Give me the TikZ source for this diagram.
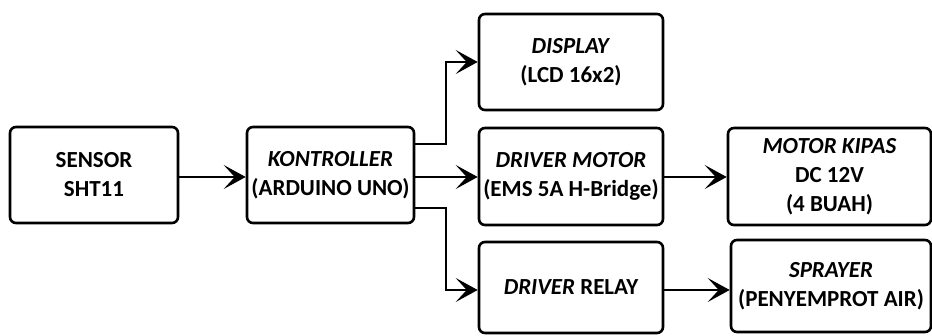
\documentclass[tikz,border=0pt]{standalone}
\usepackage{fontspec}
\setmainfont{Carlito}
\usetikzlibrary{arrows.meta}
\begin{document}
\begin{tikzpicture}[x=1pt,y=-1pt,
  blk/.style={draw=black, line width=2.6pt, rounded corners=6pt, align=center,
    font=\fontsize{23}{29}\selectfont\bfseries, inner sep=0pt},
  con/.style={line width=2pt, -{Stealth[length=22pt,width=24pt,inset=11pt]}},
  ln/.style={line width=2pt}]
\useasboundingbox (0,0) rectangle (932,336);
\node[blk, minimum width=168pt, minimum height=96pt] (sensor) at (94,175) {SENSOR\\SHT11};
\node[blk, minimum width=167pt, minimum height=96pt] (ctrl) at (330.5,175) {\textit{KONTROLLER}\\(ARDUINO UNO)};
\node[blk, minimum width=184pt, minimum height=96pt] (disp) at (571,62) {\textit{DISPLAY}\\(LCD 16x2)};
\node[blk, minimum width=184pt, minimum height=97pt] (drv) at (571,176.5) {\textit{DRIVER MOTOR}\\(EMS 5A H-Bridge)};
\node[blk, minimum width=184pt, minimum height=91pt] (relay) at (571,287.5) {\textit{DRIVER} RELAY};
\node[blk, minimum width=203pt, minimum height=97pt] (kipas) at (829.5,176.5) {\textit{MOTOR KIPAS}\\DC 12V\\(4 BUAH)};
\node[blk, minimum width=200pt, minimum height=92pt] (spray) at (831,286) {\textit{SPRAYER}\\(PENYEMPROT AIR)};
\coordinate (j1) at (446,144);
\coordinate (j2) at (446,208);
\draw[con] (sensor.east |- 0,177) -- (ctrl.west |- 0,177);
\draw[con] (ctrl.east |- j1) -- (j1) |- (disp.west);
\draw[con] (ctrl.east |- 0,177) -- (drv.west |- 0,177);
\draw[con] (ctrl.east |- j2) -- (j2) |- (relay.west |- 0,290);
\draw[con] (drv.east |- 0,177) -- (kipas.west |- 0,177);
\draw[con] (relay.east |- 0,290) -- (spray.west |- 0,290);
\end{tikzpicture}
\end{document}
